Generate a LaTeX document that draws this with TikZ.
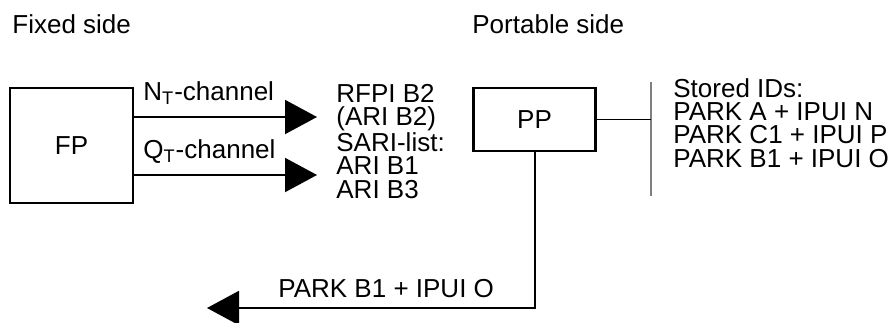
\documentclass[tikz,border=0pt]{standalone}
\usepackage{fontspec}
\setmainfont{Liberation Sans}
\usetikzlibrary{arrows.meta, positioning}
\definecolor{barGray}{HTML}{808080}
\newcommand{\idfont}{\fontsize{13}{11.6}\selectfont}
\tikzset{
  unitbox/.style={rectangle, draw=black, line width=1.2pt, align=center, inner sep=0pt},
  sigarrow/.style={-{Triangle[length=16pt, width=17pt]}, line width=1pt},
  plainline/.style={line width=0.8pt},
  barline/.style={draw=barGray, line width=1pt},
  txt/.style={anchor=base west, inner sep=0pt, align=left},
}
\begin{document}
\begin{tikzpicture}[x=0.5pt, y=-0.5pt, font=\idfont]
    \useasboundingbox (0,0) rectangle (895,322);
    % headings
    \node[txt] (fixed)    at (12,33)  {Fixed side};
    \node[txt] (portable) at (472,33) {Portable side};

    % fixed part
    \node[unitbox, minimum width=61.5pt, minimum height=57.5pt] (fp) at (71.5,145.5) {FP};
    \coordinate (ntip) at (317,117);
    \coordinate (qtip) at (317,175);
    \draw[sigarrow] (fp.east |- ntip) -- (ntip);
    \draw[sigarrow] (fp.east |- qtip) -- (qtip);
    \node[txt] (ntlabel) at (143,100) {N\textsubscript{T}-channel};
    \node[txt] (qtlabel) at (143,158) {Q\textsubscript{T}-channel};
    % base of a multi-line node = last line
    \node[txt] (rfpi) at (336,198) {RFPI B2\\(ARI B2)\\SARI-list:\\ARI B1\\ARI B3};

    % portable part
    \node[unitbox, minimum width=61pt, minimum height=31.5pt] (pp) at (534.5,119.5) {PP};
    \coordinate (bartop) at (651,82);
    \coordinate (barbot) at (651,196);
    \draw[barline] (bartop) -- (barbot);
    \draw[plainline] (pp.east) -- (pp.east -| bartop);
    \node[txt] (stored) at (673,167) {Stored IDs:\\PARK A + IPUI N\\PARK C1 + IPUI P\\PARK B1 + IPUI O};

    % answer back to the fixed side
    \coordinate (rtip) at (207,308);
    \draw[sigarrow] (pp.south) |- (rtip);
    \node[txt] (reply) at (278,297) {PARK B1 + IPUI O};
\end{tikzpicture}
\end{document}
